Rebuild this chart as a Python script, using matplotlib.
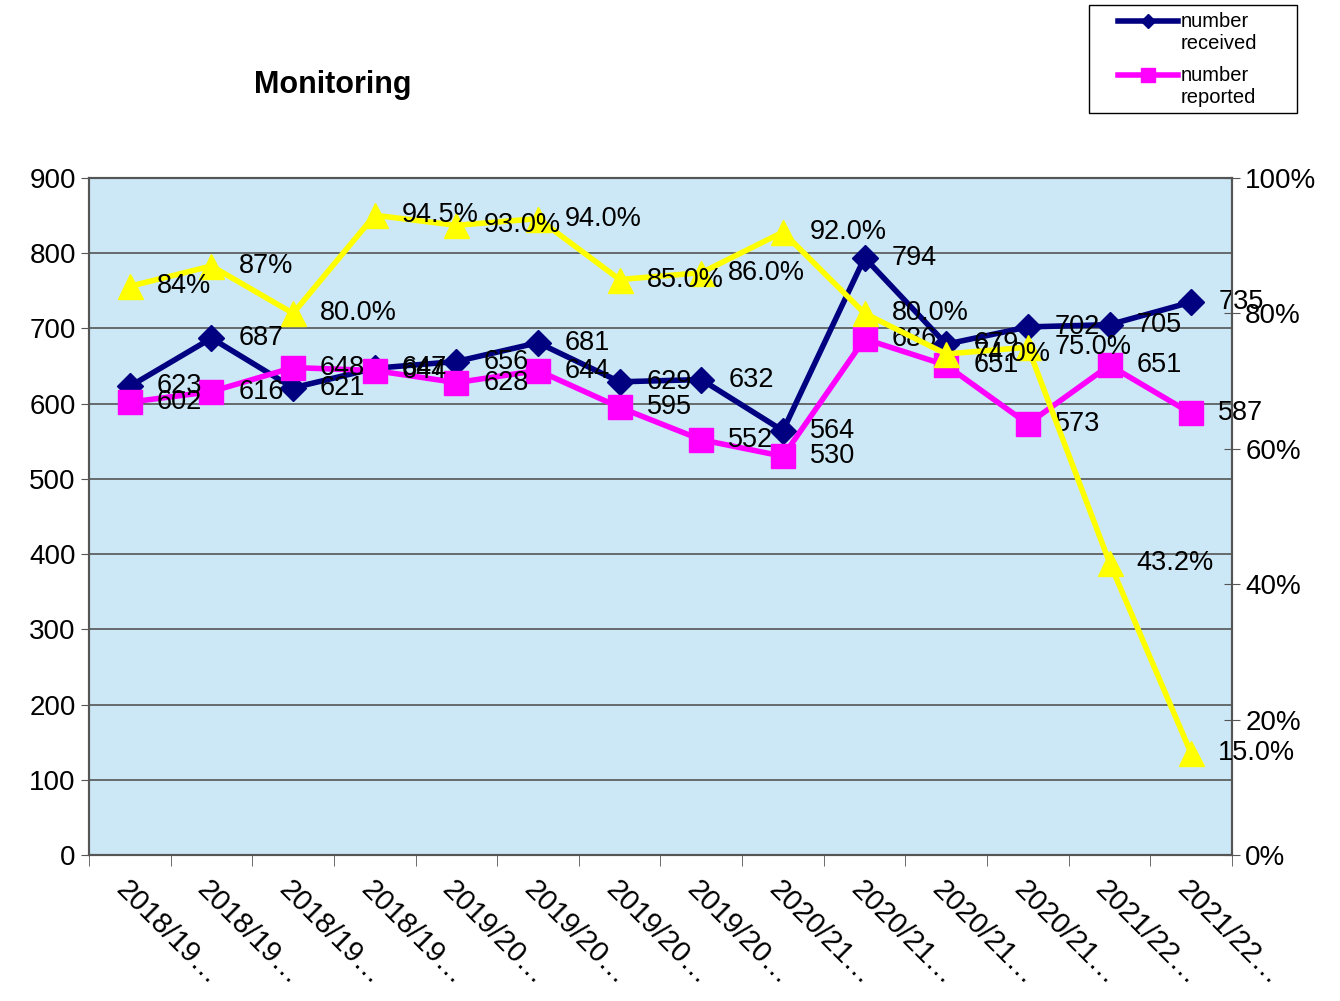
import numpy as np
import matplotlib
matplotlib.use('Agg')
import matplotlib.pyplot as plt
from matplotlib.lines import Line2D
from matplotlib.patches import Rectangle

plt.rcParams['font.family'] = ['Liberation Sans', 'DejaVu Sans']

categories = ['2018/19…', '2018/19…', '2018/19…', '2018/19…',
              '2019/20…', '2019/20…', '2019/20…', '2019/20…',
              '2020/21…', '2020/21…', '2020/21…', '2020/21…',
              '2021/22…', '2021/22…']
received = [623, 687, 621, 647, 656, 681, 629, 632, 564, 794, 679, 702, 705, 735]
reported = [602, 616, 648, 644, 628, 644, 595, 552, 530, 686, 651, 573, 651, 587]
pct = [0.84, 0.87, 0.80, 0.945, 0.93, 0.94, 0.85, 0.86, 0.92, 0.80, 0.74, 0.75, 0.432, 0.15]
pct_labels = ['84%', '87%', '80.0%', '94.5%', '93.0%', '94.0%', '85.0%', '86.0%',
              '92.0%', '80.0%', '74.0%', '75.0%', '43.2%', '15.0%']

x = np.arange(len(categories))
W, H = 1340, 1001

fig = plt.figure(figsize=(13.4, 10.01), dpi=100)
ax = fig.add_axes([0.0664, 0.1459, 0.853, 0.6763])
ax.set_facecolor('#CCE8F6')

ax.plot(x, received, color='#000080', lw=4, marker='D', ms=13, zorder=3)
ax.plot(x, reported, color='#FF00FF', lw=4, marker='s', ms=17, zorder=3)

for xi, v in zip(x, received):
    ax.annotate(str(v), (xi, v), xytext=(27, 0), textcoords='offset pixels',
                ha='left', va='center', fontsize=19.5, zorder=5)
for xi, v in zip(x, reported):
    ax.annotate(str(v), (xi, v), xytext=(27, 0), textcoords='offset pixels',
                ha='left', va='center', fontsize=19.5, zorder=5)

ax.set_xlim(-0.5, len(categories) - 0.5)
ax.set_ylim(0, 900)
ax.set_yticks(range(0, 901, 100))
ax.yaxis.grid(True, color='#555555', lw=1.2)
ax.set_axisbelow(True)
ax.tick_params(axis='y', labelsize=20, length=6, color='#555555')

ax.set_xticks(x)
ax.set_xticklabels(categories, rotation=-45, ha='left', va='top',
                   rotation_mode='anchor', fontsize=21)
ax.set_xticks(np.arange(-0.5, len(categories)), minor=True)
ax.tick_params(axis='x', which='major', length=0, pad=15)
ax.tick_params(axis='x', which='minor', length=8, color='#555555')
for sp in ax.spines.values():
    sp.set_color('#555555')
    sp.set_linewidth(1.5)

ax2 = ax.twinx()
ax2.plot(x, pct, color='#FFFF00', lw=4, marker='^', ms=18, zorder=3)
for xi, v, t in zip(x, pct, pct_labels):
    ax2.annotate(t, (xi, v), xytext=(27, 0), textcoords='offset pixels',
                 ha='left', va='center', fontsize=19.5)
ax2.set_ylim(0, 1)
ax2.set_yticks(np.arange(0, 1.01, 0.2))
ax2.set_yticklabels(['0%', '20%', '40%', '60%', '80%', '100%'])
ax2.tick_params(axis='y', labelsize=20, length=12, direction='inout', color='#555555')
for sp in ax2.spines.values():
    sp.set_color('#555555')
    sp.set_linewidth(1.5)

fig.text(0.248, 0.915, 'Monitoring', fontsize=22, fontweight='bold', ha='center', va='center')

# legend drawn by hand to follow the reference layout
fig.patches.append(Rectangle((1089 / W, 1 - 113 / H), 208 / W, 108 / H,
                             transform=fig.transFigure, fill=False,
                             edgecolor='black', lw=1))
legend_items = [('number\nreceived', '#000080', 'D', 7, 21),
                ('number\nreported', '#FF00FF', 's', 10, 75)]
for label, col, mk, size, ypix in legend_items:
    yy = 1 - ypix / H
    fig.add_artist(Line2D([1118 / W, 1148 / W, 1178 / W], [yy, yy, yy],
                          transform=fig.transFigure, color=col, lw=4,
                          marker=mk, ms=size, markevery=[1]))
    fig.text(1181 / W, 1 - (ypix + 11.5) / H, label, fontsize=14.5,
             ha='left', va='center', linespacing=1.15)

fig.savefig('out.png', dpi=100)
